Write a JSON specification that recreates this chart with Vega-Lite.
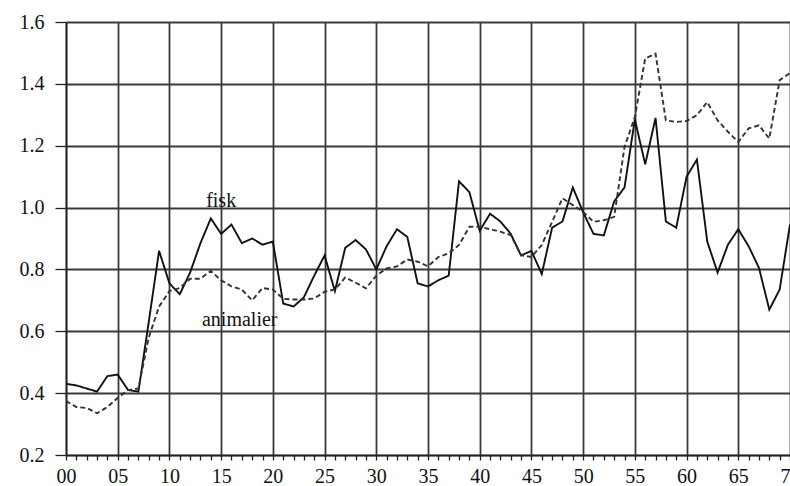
{
  "$schema": "https://vega.github.io/schema/vega-lite/v6.json",
  "width": 724,
  "height": 433,
  "autosize": {"type": "none"},
  "padding": {"left": 66, "top": 22, "right": 0, "bottom": 31},
  "background": "white",
  "config": {
    "view": {"stroke": null},
    "font": "Liberation Serif",
    "axis": {"labelFont": "Liberation Serif", "labelFontSize": 20, "labelColor": "#111", "domainColor": "#222", "domainWidth": 1.6, "tickColor": "#222", "tickWidth": 1.3, "gridColor": "#3a3a3a", "gridWidth": 1.8, "gridOpacity": 1, "title": null}
  },
  "datasets": {
    "series": [
      {"year":0,"series":"fisk","value":0.43},{"year":1,"series":"fisk","value":0.425},{"year":2,"series":"fisk","value":0.415},{"year":3,"series":"fisk","value":0.405},{"year":4,"series":"fisk","value":0.455},{"year":5,"series":"fisk","value":0.46},{"year":6,"series":"fisk","value":0.41},{"year":7,"series":"fisk","value":0.405},{"year":8,"series":"fisk","value":0.63},{"year":9,"series":"fisk","value":0.86},
      {"year":10,"series":"fisk","value":0.755},{"year":11,"series":"fisk","value":0.72},{"year":12,"series":"fisk","value":0.79},{"year":13,"series":"fisk","value":0.885},{"year":14,"series":"fisk","value":0.965},{"year":15,"series":"fisk","value":0.915},{"year":16,"series":"fisk","value":0.945},{"year":17,"series":"fisk","value":0.885},{"year":18,"series":"fisk","value":0.9},{"year":19,"series":"fisk","value":0.88},
      {"year":20,"series":"fisk","value":0.89},{"year":21,"series":"fisk","value":0.69},{"year":22,"series":"fisk","value":0.68},{"year":23,"series":"fisk","value":0.71},{"year":24,"series":"fisk","value":0.78},{"year":25,"series":"fisk","value":0.845},{"year":26,"series":"fisk","value":0.73},{"year":27,"series":"fisk","value":0.87},{"year":28,"series":"fisk","value":0.895},{"year":29,"series":"fisk","value":0.865},
      {"year":30,"series":"fisk","value":0.8},{"year":31,"series":"fisk","value":0.875},{"year":32,"series":"fisk","value":0.93},{"year":33,"series":"fisk","value":0.905},{"year":34,"series":"fisk","value":0.755},{"year":35,"series":"fisk","value":0.745},{"year":36,"series":"fisk","value":0.765},{"year":37,"series":"fisk","value":0.78},{"year":38,"series":"fisk","value":1.085},{"year":39,"series":"fisk","value":1.05},
      {"year":40,"series":"fisk","value":0.925},{"year":41,"series":"fisk","value":0.98},{"year":42,"series":"fisk","value":0.955},{"year":43,"series":"fisk","value":0.915},{"year":44,"series":"fisk","value":0.845},{"year":45,"series":"fisk","value":0.86},{"year":46,"series":"fisk","value":0.785},{"year":47,"series":"fisk","value":0.935},{"year":48,"series":"fisk","value":0.955},{"year":49,"series":"fisk","value":1.065},
      {"year":50,"series":"fisk","value":0.985},{"year":51,"series":"fisk","value":0.915},{"year":52,"series":"fisk","value":0.91},{"year":53,"series":"fisk","value":1.02},{"year":54,"series":"fisk","value":1.065},{"year":55,"series":"fisk","value":1.285},{"year":56,"series":"fisk","value":1.14},{"year":57,"series":"fisk","value":1.29},{"year":58,"series":"fisk","value":0.955},{"year":59,"series":"fisk","value":0.935},
      {"year":60,"series":"fisk","value":1.1},{"year":61,"series":"fisk","value":1.155},{"year":62,"series":"fisk","value":0.89},{"year":63,"series":"fisk","value":0.79},{"year":64,"series":"fisk","value":0.88},{"year":65,"series":"fisk","value":0.93},{"year":66,"series":"fisk","value":0.875},{"year":67,"series":"fisk","value":0.805},{"year":68,"series":"fisk","value":0.67},{"year":69,"series":"fisk","value":0.735},{"year":70,"series":"fisk","value":0.945},
      {"year":0,"series":"animalier","value":0.375},{"year":1,"series":"animalier","value":0.355},{"year":2,"series":"animalier","value":0.352},{"year":3,"series":"animalier","value":0.335},{"year":4,"series":"animalier","value":0.355},{"year":5,"series":"animalier","value":0.385},{"year":6,"series":"animalier","value":0.41},{"year":7,"series":"animalier","value":0.415},{"year":8,"series":"animalier","value":0.58},{"year":9,"series":"animalier","value":0.68},
      {"year":10,"series":"animalier","value":0.73},{"year":11,"series":"animalier","value":0.74},{"year":12,"series":"animalier","value":0.77},{"year":13,"series":"animalier","value":0.77},{"year":14,"series":"animalier","value":0.795},{"year":15,"series":"animalier","value":0.765},{"year":16,"series":"animalier","value":0.745},{"year":17,"series":"animalier","value":0.735},{"year":18,"series":"animalier","value":0.7},{"year":19,"series":"animalier","value":0.74},
      {"year":20,"series":"animalier","value":0.735},{"year":21,"series":"animalier","value":0.705},{"year":22,"series":"animalier","value":0.703},{"year":23,"series":"animalier","value":0.703},{"year":24,"series":"animalier","value":0.706},{"year":25,"series":"animalier","value":0.728},{"year":26,"series":"animalier","value":0.735},{"year":27,"series":"animalier","value":0.774},{"year":28,"series":"animalier","value":0.757},{"year":29,"series":"animalier","value":0.739},
      {"year":30,"series":"animalier","value":0.78},{"year":31,"series":"animalier","value":0.803},{"year":32,"series":"animalier","value":0.81},{"year":33,"series":"animalier","value":0.832},{"year":34,"series":"animalier","value":0.825},{"year":35,"series":"animalier","value":0.81},{"year":36,"series":"animalier","value":0.84},{"year":37,"series":"animalier","value":0.852},{"year":38,"series":"animalier","value":0.879},{"year":39,"series":"animalier","value":0.938},
      {"year":40,"series":"animalier","value":0.938},{"year":41,"series":"animalier","value":0.93},{"year":42,"series":"animalier","value":0.922},{"year":43,"series":"animalier","value":0.911},{"year":44,"series":"animalier","value":0.846},{"year":45,"series":"animalier","value":0.84},{"year":46,"series":"animalier","value":0.879},{"year":47,"series":"animalier","value":0.954},{"year":48,"series":"animalier","value":1.03},{"year":49,"series":"animalier","value":1.008},
      {"year":50,"series":"animalier","value":0.986},{"year":51,"series":"animalier","value":0.954},{"year":52,"series":"animalier","value":0.959},{"year":53,"series":"animalier","value":0.97},{"year":54,"series":"animalier","value":1.196},{"year":55,"series":"animalier","value":1.293},{"year":56,"series":"animalier","value":1.482},{"year":57,"series":"animalier","value":1.498},{"year":58,"series":"animalier","value":1.282},{"year":59,"series":"animalier","value":1.277},
      {"year":60,"series":"animalier","value":1.28},{"year":61,"series":"animalier","value":1.299},{"year":62,"series":"animalier","value":1.341},{"year":63,"series":"animalier","value":1.282},{"year":64,"series":"animalier","value":1.245},{"year":65,"series":"animalier","value":1.212},{"year":66,"series":"animalier","value":1.256},{"year":67,"series":"animalier","value":1.266},{"year":68,"series":"animalier","value":1.223},{"year":69,"series":"animalier","value":1.412},{"year":70,"series":"animalier","value":1.435}
    ],
    "labels": [
      {"year": 15.0, "value": 1.02, "label": "fisk"},
      {"year": 16.8, "value": 0.636, "label": "animalier"}
    ]
  },
  "encoding": {
    "x": {
      "field": "year", "type": "quantitative",
      "scale": {"domain": [0, 70], "nice": false, "zero": false},
      "axis": {
        "values": [0,1,2,3,4,5,6,7,8,9,10,11,12,13,14,15,16,17,18,19,20,21,22,23,24,25,26,27,28,29,30,31,32,33,34,35,36,37,38,39,40,41,42,43,44,45,46,47,48,49,50,51,52,53,54,55,56,57,58,59,60,61,62,63,64,65,66,67,68,69,70],
        "labelExpr": "datum.value % 5 === 0 ? (datum.value < 10 ? '0' + datum.value : '' + datum.value) : ''",
        "labelOverlap": false,
        "labelFlush": false,
        "tickSize": 5,
        "labelPadding": 6,
        "grid": true,
        "gridOpacity": {"condition": {"test": "datum.value % 5 === 0", "value": 1}, "value": 0}
      }
    },
    "y": {
      "field": "value", "type": "quantitative",
      "scale": {"domain": [0.2, 1.6], "nice": false, "zero": false},
      "axis": {
        "values": [0.2, 0.4, 0.6, 0.8, 1.0, 1.2, 1.4, 1.6],
        "format": ".1f",
        "tickSize": 11,
        "labelPadding": 11,
        "grid": true
      }
    }
  },
  "layer": [
    {
      "data": {"name": "series"},
      "mark": {"type": "line", "strokeWidth": 1.9, "clip": true},
      "encoding": {
        "color": {"field": "series", "type": "nominal", "scale": {"domain": ["fisk", "animalier"], "range": ["#111111", "#333333"]}, "legend": null},
        "strokeDash": {"field": "series", "type": "nominal", "scale": {"domain": ["fisk", "animalier"], "range": [[1, 0], [5, 3]]}, "legend": null}
      }
    },
    {
      "data": {"name": "labels"},
      "mark": {"type": "text", "font": "Liberation Serif", "fontSize": 20, "color": "#111", "align": "center", "baseline": "middle"},
      "encoding": {
        "text": {"field": "label"}
      }
    }
  ]
}
